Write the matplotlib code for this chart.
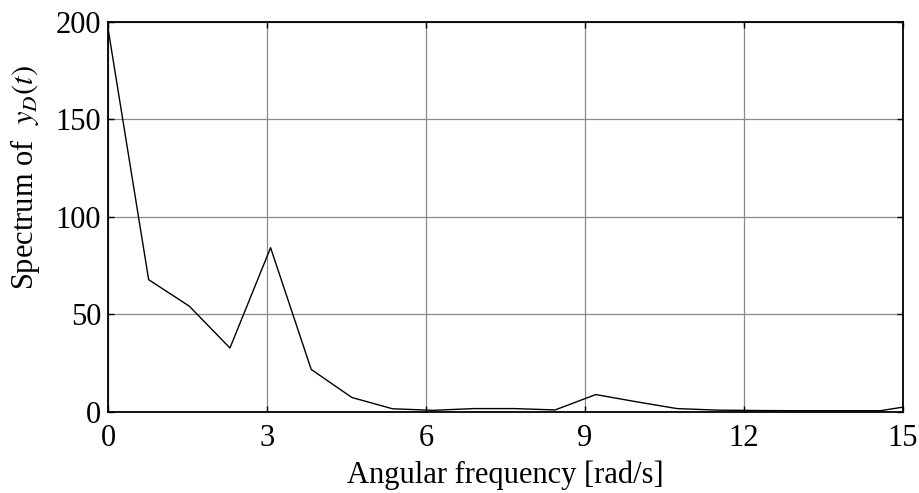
import numpy as np
import matplotlib
matplotlib.use("Agg")
import matplotlib.pyplot as plt

# Frequency bins (rad/s): k * 2*pi/8.192
k_index = list(range(21))
dw = 2 * np.pi / 8.192
freq = [k * dw for k in k_index]
spectrum = [196.8, 67.7, 54.1, 32.6, 84.1, 21.6, 7.2, 1.4, 0.6, 1.5, 1.5, 0.8,
            8.7, 5.0, 1.5, 0.7, 0.5, 0.4, 0.4, 0.4, 3.7]

x_ticks = [0, 3, 6, 9, 12, 15]
y_ticks = [0, 50, 100, 150, 200]

plt.rcParams['font.family'] = ['Liberation Serif', 'DejaVu Serif']
plt.rcParams['mathtext.fontset'] = 'stix'

fig = plt.figure(figsize=(9.2, 4.93), dpi=100)
ax = fig.add_axes([0.1174, 0.1653, 0.864, 0.790])

ax.plot(freq, spectrum, color='black', lw=1.0, clip_on=True)
ax.set_xlim(0, 15)
ax.set_ylim(0, 200)
ax.set_xticks(x_ticks)
ax.set_yticks(y_ticks)
ax.grid(True, color='#8a8a8a', lw=0.9)
ax.set_axisbelow(True)
ax.tick_params(direction='in', top=True, right=True, length=4, width=1,
               labelsize=22)
ax.tick_params(axis='x', pad=9)
ax.tick_params(axis='y', pad=5)
for s in ax.spines.values():
    s.set_linewidth(1.3)

ax.set_xlabel('Angular frequency [rad/s]', fontsize=22, labelpad=5.5)
ax.set_ylabel('Spectrum of  $y_D(t)$', fontsize=22)
ax.yaxis.set_label_coords(-0.083, 0.60)

fig.savefig('out.png', dpi=100)
